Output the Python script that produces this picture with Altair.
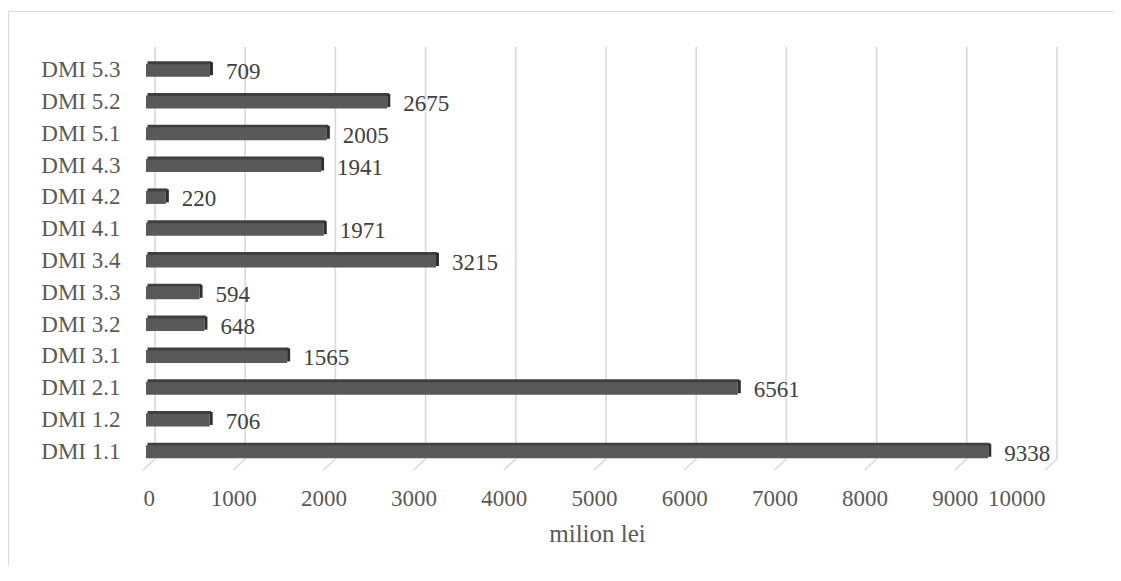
import altair as alt
import pandas as pd

categories = ["DMI 1.1", "DMI 1.2", "DMI 2.1", "DMI 3.1", "DMI 3.2", "DMI 3.3", "DMI 3.4",
              "DMI 4.1", "DMI 4.2", "DMI 4.3", "DMI 5.1", "DMI 5.2", "DMI 5.3"]
values = [9338, 706, 6561, 1565, 648, 594, 3215, 1971, 220, 1941, 2005, 2675, 709]
ticks = [0, 1000, 2000, 3000, 4000, 5000, 6000, 7000, 8000, 9000, 10000]

FONT = "Liberation Serif"
W, H = 902, 428

df = pd.DataFrame({"cat": categories, "val": values})
tk = pd.DataFrame({"t": ticks})
order = list(reversed(categories))

xs = alt.Scale(domain=[0, 10000], range=[0, W], nice=False, zero=True)
ys = alt.Scale(domain=order, paddingInner=0.59, paddingOuter=0.525)

xaxis = alt.Axis(values=ticks, format="d", grid=False, ticks=False, domain=False, labelFont=FONT,
                 labelFontSize=23, labelColor="#595959", labelPadding=12, labelOffset=-3,
                 title="milion lei", titleFont=FONT, titleFontSize=25, titleFontWeight="normal",
                 titleColor="#595959", titlePadding=11)
yaxis = alt.Axis(grid=False, ticks=False, domain=False, labelFont=FONT, labelFontSize=23,
                 labelColor="#595959", labelPadding=26, title=None)

grid = alt.Chart(tk).mark_rule(color="#d9d9d9", strokeWidth=1.6, xOffset=9).encode(
    x=alt.X("t:Q", scale=xs, axis=xaxis),
    y=alt.value(0), y2=alt.value(412))
floor = alt.Chart(tk).mark_rule(color="#d9d9d9", strokeWidth=1.6, xOffset=9, x2Offset=-3).encode(
    x=alt.X("t:Q", scale=xs), x2="t:Q",
    y=alt.value(412), y2=alt.value(423))

front = alt.Chart(df).mark_bar(color="#595959").encode(
    x=alt.X("val:Q", scale=xs),
    y=alt.Y("cat:N", scale=ys, sort=order, axis=yaxis))
top = alt.Chart(df).mark_bar(color="#3f3f3f", size=3, yOffset=-7.5, xOffset=1.5, x2Offset=1.5).encode(
    x=alt.X("val:Q", scale=xs), x2=alt.value(0),
    y=alt.Y("cat:N", scale=ys, sort=order))
side = alt.Chart(df).mark_bar(color="#2f2f2f", size=13, yOffset=-1.5, x2Offset=3).encode(
    x=alt.X("val:Q", scale=xs), x2="val:Q",
    y=alt.Y("cat:N", scale=ys, sort=order))
labels = alt.Chart(df).mark_text(font=FONT, fontSize=23, color="#404040", align="left",
                                 baseline="middle", dx=16, dy=2).encode(
    x=alt.X("val:Q", scale=xs), y=alt.Y("cat:N", scale=ys, sort=order),
    text="val:Q")

border_top = alt.Chart(tk.head(1)).mark_rule(color="#d9d9d9", strokeWidth=1.2).encode(
    x=alt.value(-138), x2=alt.value(W + 70), y=alt.value(-35.5))
border_left = alt.Chart(tk.head(1)).mark_rule(color="#d9d9d9", strokeWidth=1.2).encode(
    x=alt.value(-137.5), y=alt.value(-35.5), y2=alt.value(H + 110))

chart = alt.layer(grid, floor, border_top, border_left, front, top, side, labels).properties(
    width=W, height=H,
    background="white",
    autosize=alt.AutoSizeParams(type="none"),
    padding={"left": 138, "top": 39, "right": 65, "bottom": 90},
).configure_view(strokeOpacity=0, strokeWidth=0)

chart.save("out.html", embed_options={"renderer": "svg", "actions": False})
